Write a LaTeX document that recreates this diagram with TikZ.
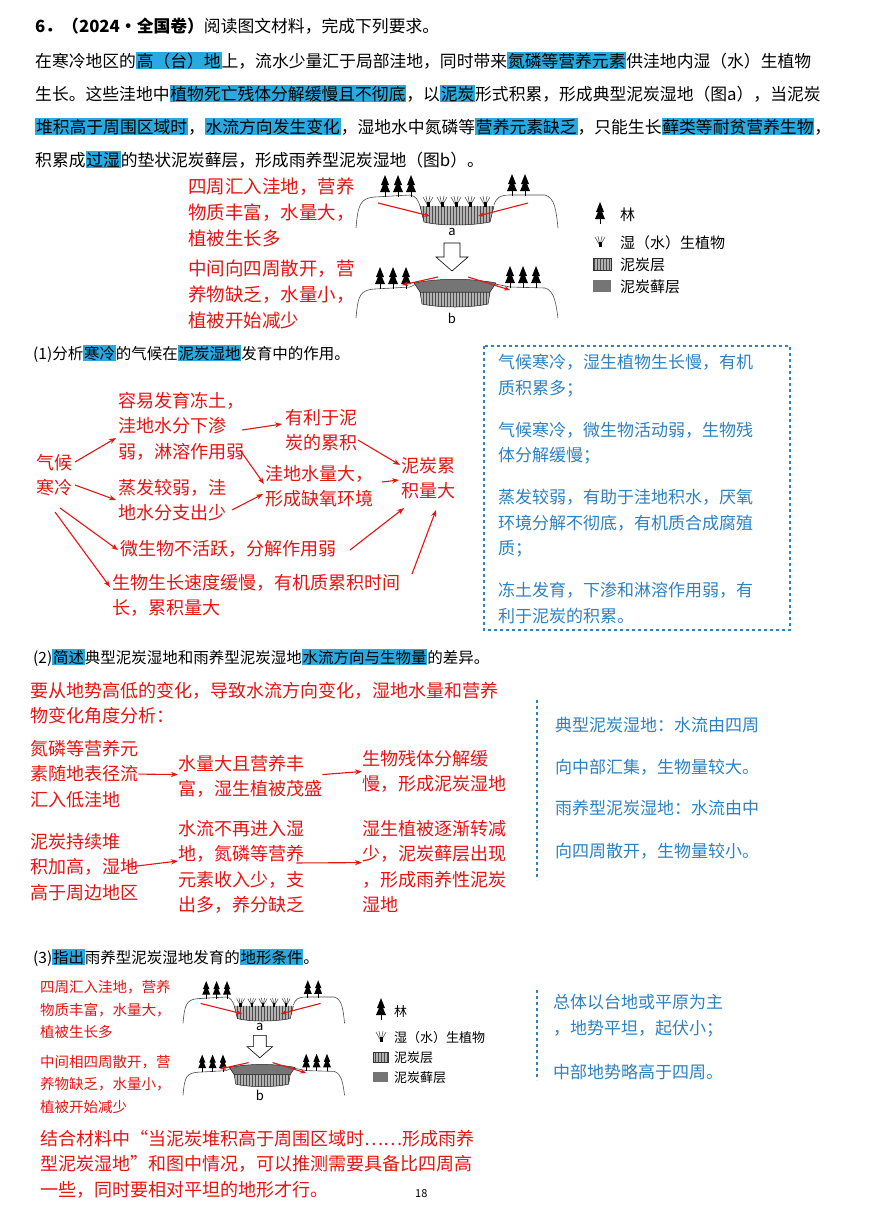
\documentclass[tikz,border=0pt]{standalone}
\usepackage{fontspec}
\setmainfont{Noto Sans CJK SC}
\usetikzlibrary{arrows.meta,patterns}
\definecolor{hlb}{RGB}{40,170,225}
\definecolor{rd}{RGB}{232,20,20}
\definecolor{bt}{RGB}{45,130,195}
\newcommand\hl[1]{{\setlength{\fboxsep}{0.8pt}\colorbox{hlb}{#1}}}
\newcommand\mytree[2]{\fill[black] (#1,#2-22) -- (#1-4,#2-12) -- (#1-2,#2-12) -- (#1-5,#2-5) -- (#1+5,#2-5) -- (#1+2,#2-12) -- (#1+4,#2-12) -- cycle; \draw[black,line width=1pt] (#1,#2-6) -- (#1,#2);}
\newcommand\myplant[2]{\draw[gray!70!black,line width=0.6pt] (#1,#2) -- (#1-5,#2-9) (#1,#2) -- (#1-2,#2-10) (#1,#2) -- (#1+2,#2-10) (#1,#2) -- (#1+5,#2-9); \fill[black] (#1-1.5,#2-4) rectangle (#1+1.5,#2+1);}
\newcommand\peatbox[4]{\fill[gray!60] (#1,#2) rectangle (#3,#4); \fill[pattern=vertical lines,pattern color=gray!60!black] (#1,#2) rectangle (#3,#4); \draw[gray!40!black,line width=0.4pt] (#1,#2) rectangle (#3,#4);}
\newcommand\peatfig{%
 \draw[gray!60!black,line width=0.6pt] (356,228) .. controls (358,205) and (360,198) .. (375,197) -- (410,195) .. controls (416,196) and (418,200) .. (420,206);
 \draw[gray!60!black,line width=0.6pt] (494,205) .. controls (496,198) and (500,195) .. (510,195) -- (545,195) .. controls (555,198) and (556,210) .. (558,228);
 \fill[gray!60] (420,206) -- (494,206) -- (490,222) .. controls (470,226) and (440,226) .. (424,222) -- cycle;
 \fill[pattern=vertical lines,pattern color=gray!60!black] (420,206) -- (494,206) -- (490,222) .. controls (470,226) and (440,226) .. (424,222) -- cycle;
 \draw[gray!30!black,line width=0.5pt] (420,206) -- (424,222) .. controls (440,226) and (470,226) .. (490,222) -- (494,206);
 \foreach \x in {385,398,411} {\mytree{\x}{197}}
 \foreach \x in {512,525} {\mytree{\x}{196}}
 \foreach \x in {428,442,456,470,485} {\myplant{\x}{206}}
 \node[font=\fontsize{13}{13}\selectfont] (la) at (452,232) {a};
 \draw[black,line width=0.6pt,fill=white] (444,243) -- (460,243) -- (460,257) -- (468,257) -- (452,271) -- (436,257) -- (444,257) -- cycle;
 \draw[gray!60!black,line width=0.6pt] (356,318) .. controls (358,295) and (360,290) .. (375,289) -- (410,287) -- (416,284);
 \draw[gray!60!black,line width=0.6pt] (495,284) -- (510,287) -- (545,288) .. controls (555,291) and (556,305) .. (558,318);
 \fill[gray!60] (420,292) -- (490,292) -- (488,304) .. controls (470,308) and (440,308) .. (422,304) -- cycle;
 \fill[pattern=vertical lines,pattern color=gray!60!black,draw=gray!30!black,line width=0.5pt] (420,292) -- (490,292) -- (488,304) .. controls (470,308) and (440,308) .. (422,304) -- cycle;
 \fill[gray!45!black!70,draw=gray!30!black,line width=0.5pt] (414,283) .. controls (440,278) and (470,278) .. (496,283) -- (490,292) -- (420,292) -- cycle;
 \foreach \x in {380,393,406} {\mytree{\x}{289}}
 \foreach \x in {510,523,536} {\mytree{\x}{288}}
 \node[font=\fontsize{13}{13}\selectfont] (lb) at (452,318) {b};
 \draw[rd,line width=1.1pt,-{Stealth[length=6pt]}] (378,203) -- (430,216);
 \draw[rd,line width=1.1pt,-{Stealth[length=6pt]}] (528,203) -- (478,216);
 \draw[rd,line width=1.1pt,-{Stealth[length=6pt]}] (438,277) -- (402,285);
 \draw[rd,line width=1.1pt,-{Stealth[length=6pt]}] (468,277) -- (510,290);
}
\begin{document}
\begin{tikzpicture}[x=1pt,y=-1pt,
 t/.style={anchor=base west,inner sep=0pt,font=\fontsize{16.8}{20}\selectfont},
 r/.style={anchor=north west,inner sep=0pt,align=left,text=rd,font=\fontsize{18}{25.5}\selectfont},
 b/.style={anchor=base west,inner sep=0pt,text=bt,font=\fontsize{17}{20}\selectfont},
 ra/.style={rd,line width=1.1pt,-{Stealth[length=7pt]}},
 bd/.style={bt,line width=1.8pt,dash pattern=on 3pt off 3pt}]
\useasboundingbox[fill=white] (0,0) rectangle (868,1213);
\node[t] (h0) at (35,32) {\textbf{6．（2024·全国卷）}阅读图文材料，完成下列要求。};
\node[t] (h1) at (35,67) {在寒冷地区的\hl{高（台）地}上，流水少量汇于局部洼地，同时带来\hl{氮磷等营养元素}供洼地内湿（水）生植物};
\node[t] (h2) at (35,100) {生长。这些洼地中\hl{植物死亡残体分解缓慢且不彻底}，以\hl{泥炭}形式积累，形成典型泥炭湿地（图a），当泥炭};
\node[t] (h3) at (35,133) {\hl{堆积高于周围区域时}，\hl{水流方向发生变化}，湿地水中氮磷等\hl{营养元素缺乏}，只能生长\hl{藓类等耐贫营养生物}，};
\node[t] (h4) at (35,166) {积累成\hl{过湿}的垫状泥炭藓层，形成雨养型泥炭湿地（图b）。};
\node[r,font=\fontsize{18.5}{26}\selectfont] (f1a) at (188,178) {四周汇入洼地，营养\\物质丰富，水量大，\\植被生长多};
\node[r,font=\fontsize{18.5}{26}\selectfont] (f1b) at (188,260) {中间向四周散开，营\\养物缺乏，水量小，\\植被开始减少};
\peatfig
\mytree{600}{224}
\node[t,font=\fontsize{15}{15}\selectfont] (lg1) at (620,220) {林};
\myplant{600}{246}
\node[t,font=\fontsize{15}{15}\selectfont] (lg2) at (620,248) {湿（水）生植物};
\peatbox{593}{258}{611}{270}
\node[t,font=\fontsize{15}{15}\selectfont] (lg3) at (620,270) {泥炭层};
\fill[gray!45!black!70] (593,280) rectangle (611,292);
\node[t,font=\fontsize{15}{15}\selectfont] (lg4) at (620,292) {泥炭藓层};
% section 1
\node[t,font=\fontsize{15.5}{20}\selectfont] (s1) at (33,359) {(1)分析\hl{寒冷}的气候在\hl{泥炭湿地}发育中的作用。};
\node[r] (c1) at (118,392) {容易发育冻土，\\洼地水分下渗\\弱，淋溶作用弱};
\node[r] (c2) at (285,409) {有利于泥\\炭的累积};
\node[r] (q) at (36,454) {气候\\寒冷};
\node[r] (c3) at (265,465) {洼地水量大，\\形成缺氧环境};
\node[r] (c4) at (401,457) {泥炭累\\积量大};
\node[r] (c5) at (118,479) {蒸发较弱，洼\\地水分支出少};
\node[r] (c6) at (120,540) {微生物不活跃，分解作用弱};
\node[r] (c7) at (112,574) {生物生长速度缓慢，有机质累积时间\\长，累积量大};
\coordinate (q1) at (75,462); \coordinate (q2) at (75,485);
\coordinate (q3) at (60,508); \coordinate (q4) at (55,512);
\draw[ra] (q1) -- (116,438);
\draw[ra] (q2) -- (116,500);
\draw[ra] (q3) -- (118,550);
\draw[ra] (q4) -- (110,587);
\coordinate (c1a) at (242,430); \coordinate (c1b) at (240,450);
\draw[ra] (c1a) -- (282,424);
\draw[ra] (c1b) -- (264,484);
\coordinate (c5a) at (232,510);
\draw[ra] (c5a) -- (263,494);
\coordinate (c2a) at (358,440);
\draw[ra] (c2a) -- (400,465);
\coordinate (c3a) at (382,482);
\draw[ra] (c3a) -- (399,480);
\coordinate (c6a) at (350,550);
\draw[ra] (c6a) -- (404,508);
\coordinate (c7a) at (412,574);
\draw[ra] (c7a) -- (436,510);
\draw[bd] (484,346) rectangle (790,630);
\node[b] (a1) at (498,368) {气候寒冷，湿生植物生长慢，有机};
\node[b] (a2) at (498,394) {质积累多；};
\node[b] (a3) at (498,436) {气候寒冷，微生物活动弱，生物残};
\node[b] (a4) at (498,461) {体分解缓慢；};
\node[b] (a5) at (498,503) {蒸发较弱，有助于洼地积水，厌氧};
\node[b] (a6) at (498,529) {环境分解不彻底，有机质合成腐殖};
\node[b] (a7) at (498,554) {质；};
\node[b] (a8) at (498,596) {冻土发育，下渗和淋溶作用弱，有};
\node[b] (a9) at (498,622) {利于泥炭的积累。};
% section 2
\node[t,font=\fontsize{15.5}{20}\selectfont] (s2) at (33,663) {(2)\hl{简述}典型泥炭湿地和雨养型泥炭湿地\hl{水流方向与生物量}的差异。};
\node[r] (d0) at (30,682) {要从地势高低的变化，导致水流方向变化，湿地水量和营养\\物变化角度分析：};
\node[r] (d1) at (30,740) {氮磷等营养元\\素随地表径流\\汇入低洼地};
\node[r] (d2) at (178,755) {水量大且营养丰\\富，湿生植被茂盛};
\node[r] (d3) at (362,750) {生物残体分解缓\\慢，形成泥炭湿地};
\node[r] (e1) at (30,833) {泥炭持续堆\\积加高，湿地\\高于周边地区};
\node[r] (e2) at (178,820) {水流不再进入湿\\地，氮磷等营养\\元素收入少，支\\出多，养分缺乏};
\node[r] (e3) at (362,820) {湿生植被逐渐转减\\少，泥炭藓层出现\\，形成雨养性泥炭\\湿地};
\draw[ra] (d1.east) -- ([yshift=2pt]d2.west);
\draw[ra] ([yshift=2pt]d2.east) -- (d3.west);
\draw[ra] ([xshift=-10pt]e1.east) -- ([yshift=6pt]e2.west);
\draw[ra] ([xshift=-8pt,yshift=4pt]e2.east) -- ([yshift=4pt]e3.west);
\draw[bd] (537,700) -- (537,880);
\node[b] (g1) at (555,731) {典型泥炭湿地：水流由四周};
\node[b] (g2) at (555,773) {向中部汇集，生物量较大。};
\node[b] (g3) at (555,814) {雨养型泥炭湿地：水流由中};
\node[b] (g4) at (555,857) {向四周散开，生物量较小。};
% section 3
\node[t,font=\fontsize{15.5}{20}\selectfont] (s3) at (33,963) {(3)\hl{指出}雨养型泥炭湿地发育的\hl{地形条件}。};
\node[r,font=\fontsize{14.5}{22.5}\selectfont] (k1) at (40,980) {四周汇入洼地，营养\\物质丰富，水量大，\\植被生长多};
\node[r,font=\fontsize{14.5}{22.5}\selectfont] (k2) at (40,1055) {中间相四周散开，营\\养物缺乏，水量小，\\植被开始减少};
\begin{scope}[shift={(-101.8,841)},scale=0.8]
\peatfig
\end{scope}
\mytree{381}{1020}
\node[t,font=\fontsize{13}{13}\selectfont] (m1) at (394,1016) {林};
\myplant{381}{1041}
\node[t,font=\fontsize{13}{13}\selectfont] (m2) at (394,1042) {湿（水）生植物};
\peatbox{373}{1052}{388}{1062}
\node[t,font=\fontsize{13}{13}\selectfont] (m3) at (394,1062) {泥炭层};
\fill[gray!45!black!70] (373,1072) rectangle (388,1082);
\node[t,font=\fontsize{13}{13}\selectfont] (m4) at (394,1082) {泥炭藓层};
\draw[bd] (537,990) -- (537,1080);
\node[b] (p1) at (553,1008) {总体以台地或平原为主};
\node[b] (p2) at (553,1034) {，地势平坦，起伏小；};
\node[b] (p3) at (553,1078) {中部地势略高于四周。};
\node[r] (z) at (40,1130) {结合材料中“当泥炭堆积高于周围区域时……形成雨养\\型泥炭湿地”和图中情况，可以推测需要具备比四周高\\一些，同时要相对平坦的地形才行。};
\node[t,font=\fontsize{11}{11}\selectfont] (pg) at (415,1197) {18};
\end{tikzpicture}
\end{document}
